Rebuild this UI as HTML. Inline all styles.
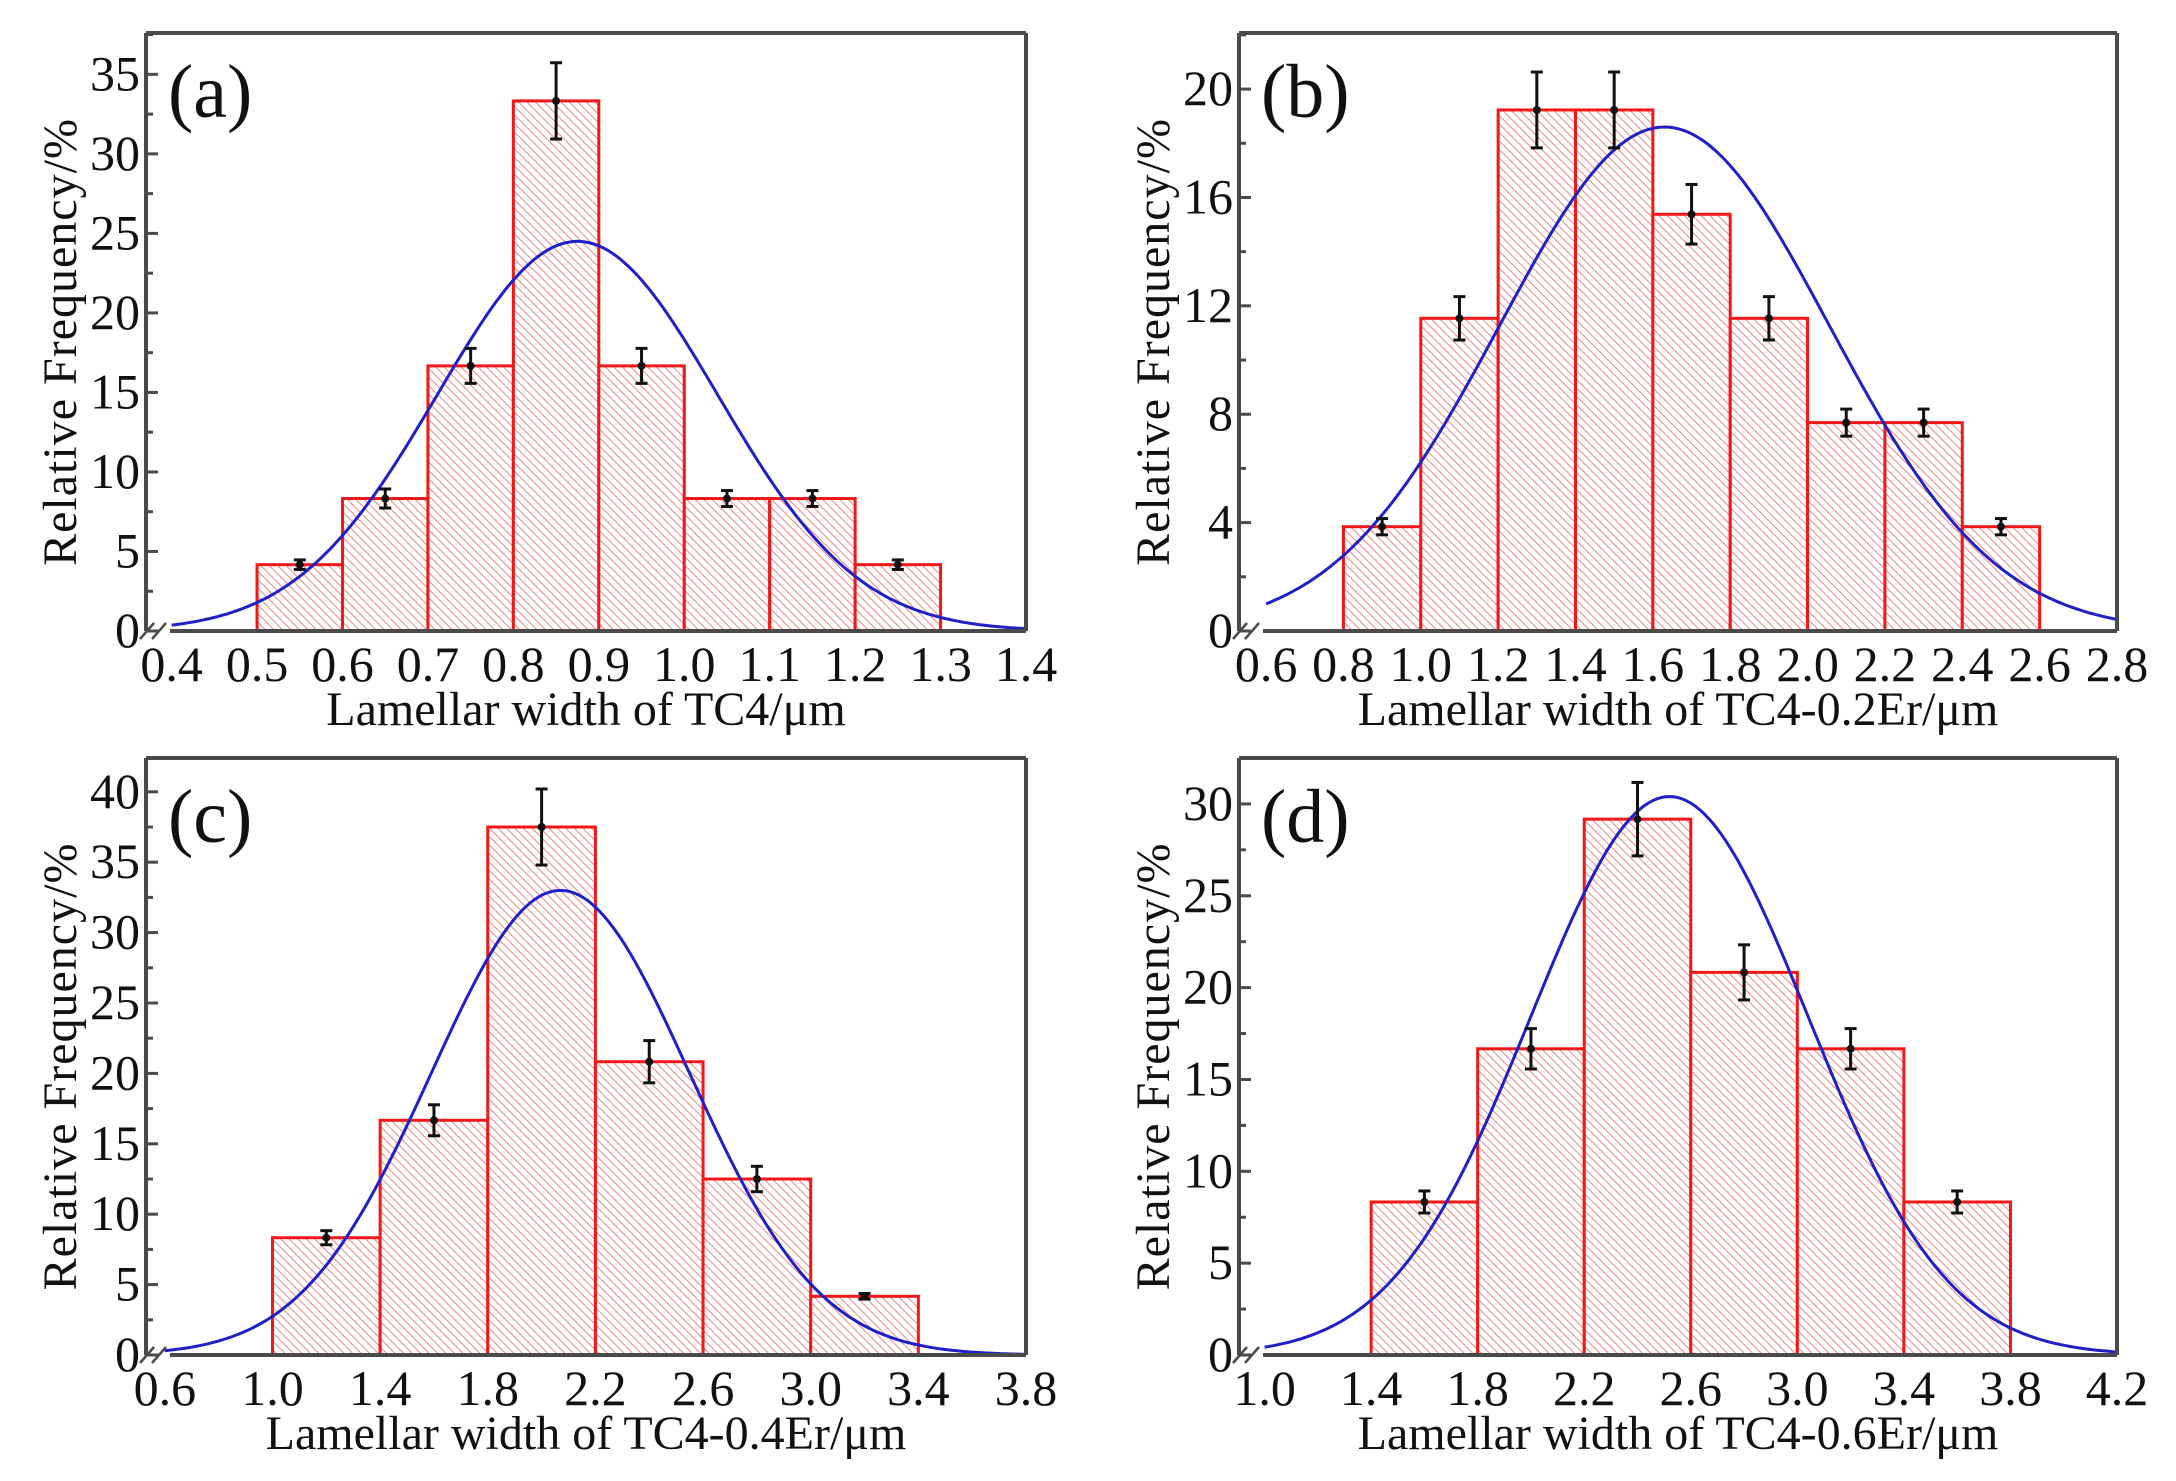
<!DOCTYPE html>
<html><head><meta charset="utf-8"><style>
html,body{margin:0;padding:0;background:#fff}
svg{display:block}
text{font-family:"Liberation Serif",serif;fill:#111}
</style></head><body>
<svg id="fig" width="2176" height="1481" viewBox="0 0 2176 1481" xmlns="http://www.w3.org/2000/svg">
<defs>
<pattern id="hatch" patternUnits="userSpaceOnUse" width="6" height="6" patternTransform="rotate(-45)">
<rect width="6" height="6" fill="#fff"/>
<line x1="0" y1="0" x2="0" y2="6" stroke="#ee7878" stroke-width="1.8"/>
</pattern>
</defs>
</svg>
<script>
// Panel (a)
const aEdges = [0.5,0.6,0.7,0.8,0.9,1.0,1.1,1.2,1.3];
const aValues = [4.17,8.33,16.67,33.33,16.67,8.33,8.33,4.17];
const aErrors = [0.3,0.6,1.1,2.4,1.1,0.5,0.5,0.3];
const aXTicks = ["0.4","0.5","0.6","0.7","0.8","0.9","1.0","1.1","1.2","1.3","1.4"];
const aYTicks = [0,5,10,15,20,25,30,35];
const aFit = [24.5,0.875,0.164];
// Panel (b)
const bEdges = [0.8,1.0,1.2,1.4,1.6,1.8,2.0,2.2,2.4,2.6];
const bValues = [3.85,11.54,19.23,19.23,15.38,11.54,7.69,7.69,3.85];
const bErrors = [0.3,0.8,1.4,1.4,1.1,0.8,0.5,0.5,0.3];
const bXTicks = ["0.6","0.8","1.0","1.2","1.4","1.6","1.8","2.0","2.2","2.4","2.6","2.8"];
const bYTicks = [0,4,8,12,16,20];
const bFit = [18.6,1.63,0.426];
// Panel (c)
const cEdges = [1.0,1.4,1.8,2.2,2.6,3.0,3.4];
const cValues = [8.33,16.67,37.5,20.83,12.5,4.17];
const cErrors = [0.5,1.1,2.7,1.5,0.9,0.2];
const cXTicks = ["0.6","1.0","1.4","1.8","2.2","2.6","3.0","3.4","3.8"];
const cYTicks = [0,5,10,15,20,25,30,35,40];
const cFit = [33.0,2.07,0.48];
// Panel (d)
const dEdges = [1.4,1.8,2.2,2.6,3.0,3.4,3.8];
const dValues = [8.33,16.67,29.17,20.83,16.67,8.33];
const dErrors = [0.6,1.1,2.0,1.5,1.1,0.6];
const dXTicks = ["1.0","1.4","1.8","2.2","2.6","3.0","3.4","3.8","4.2"];
const dYTicks = [0,5,10,15,20,25,30];
const dFit = [30.4,2.52,0.52];

const NS="http://www.w3.org/2000/svg";
const svg=document.getElementById('fig');
function mk(tag,attrs,parent){const e=document.createElementNS(NS,tag);for(const k in attrs)e.setAttribute(k,attrs[k]);(parent||svg).appendChild(e);return e;}

function panel(cfg){
  const {L,R,T,B,xmin,xmax,ymax,edges,values,errors,xt,yt,fit,label,xtitle,id}=cfg;
  const g=mk('g',{});
  
  
  const X=v=>L+(v-xmin)/(xmax-xmin)*(R-L);
  const Y=v=>B-v/ymax*(B-T);
  for(let i=0;i<values.length;i++){
    const r=mk('rect',{x:X(edges[i]),y:Y(values[i]),width:X(edges[i+1])-X(edges[i]),height:B-Y(values[i]),fill:'url(#hatch)',stroke:'#f01818','stroke-width':3},g);
    
    
  }
  const x0=parseFloat(xt[0]);
  let d='';
  for(let k=0;k<=200;k++){const x=x0+(xmax-x0)*k/200;const y=fit[0]*Math.exp(-Math.pow(x-fit[1],2)/(2*fit[2]*fit[2]));d+=(k?'L':'M')+X(x).toFixed(1)+','+Y(y).toFixed(1);}
  const c=mk('path',{d:d,fill:'none',stroke:'#2020c8','stroke-width':3},g);
  
  
  for(let i=0;i<values.length;i++){
    const cx=X((edges[i]+edges[i+1])/2);
    const eg=mk('g',{stroke:'#111','stroke-width':3},g);
    
    
    mk('line',{x1:cx,x2:cx,y1:Y(values[i]+errors[i]),y2:Y(values[i]-errors[i])},eg);
    mk('line',{x1:cx-6,x2:cx+6,y1:Y(values[i]+errors[i]),y2:Y(values[i]+errors[i])},eg);
    mk('line',{x1:cx-6,x2:cx+6,y1:Y(values[i]-errors[i]),y2:Y(values[i]-errors[i])},eg);
    mk('circle',{cx:cx,cy:Y(values[i]),r:4,fill:'#111',stroke:'none'},eg);
  }
  const ax=mk('g',{stroke:'#4a4a4a','stroke-width':4,fill:'none'},g);
  
  
  mk('line',{x1:L,y1:T,x2:R,y2:T},ax);
  mk('line',{x1:R,y1:T,x2:R,y2:B},ax);
  mk('line',{x1:L,y1:T,x2:L,y2:B},ax);
  mk('line',{x1:L+24,y1:B,x2:R,y2:B},ax);
  mk('line',{x1:L-6,y1:B+8,x2:L+8,y2:B-8,'stroke-width':2.5},ax);
  mk('line',{x1:L+6,y1:B+8,x2:L+20,y2:B-8,'stroke-width':2.5},ax);
  const step=yt[1]-yt[0];
  for(let v=0;v<=ymax;v+=step/2){
    const maj=Math.abs((v/step)-Math.round(v/step))<1e-6;
    mk('line',{x1:L,x2:L+(maj?12:7),y1:Y(v),y2:Y(v),stroke:'#4a4a4a','stroke-width':3},g);
  }
  for(const v of yt){
    const t=mk('text',{x:L-6,y:Y(v)+16,'text-anchor':'end','font-size':50},g);
    t.textContent=v;
    
    
  }
  for(const s of xt){
    const v=parseFloat(s);
    const t=mk('text',{x:X(v),y:B+50,'text-anchor':'middle','font-size':50},g);
    t.textContent=s;
    
    
  }
  const xtt=mk('text',{x:(L+R)/2,y:B+94,'text-anchor':'middle','font-size':48},g);
  xtt.textContent=xtitle;
  
  
  const ytt=mk('text',{x:0,y:0,'text-anchor':'middle','font-size':48,'letter-spacing':'1',transform:'translate('+(L-70)+','+((T+B)/2+10)+') rotate(-90)'},g);
  ytt.textContent='Relative Frequency/%';
  
  
  const pl=mk('text',{x:L+22,y:T+84,'font-size':76},g);
  pl.textContent=label;
  
  
}

panel({id:'a',L:146,R:1026,T:33,B:631,xmin:0.37,xmax:1.4,ymax:37.6,edges:aEdges,values:aValues,errors:aErrors,xt:aXTicks,yt:aYTicks,fit:aFit,label:'(a)',xtitle:'Lamellar width of TC4/μm'});
panel({id:'b',L:1239,R:2117,T:33,B:631,xmin:0.53,xmax:2.8,ymax:22.07,edges:bEdges,values:bValues,errors:bErrors,xt:bXTicks,yt:bYTicks,fit:bFit,label:'(b)',xtitle:'Lamellar width of TC4-0.2Er/μm'});
panel({id:'c',L:146,R:1026,T:758,B:1355,xmin:0.53,xmax:3.8,ymax:42.4,edges:cEdges,values:cValues,errors:cErrors,xt:cXTicks,yt:cYTicks,fit:cFit,label:'(c)',xtitle:'Lamellar width of TC4-0.4Er/μm'});
panel({id:'d',L:1239,R:2117,T:758,B:1355,xmin:0.904,xmax:4.2,ymax:32.5,edges:dEdges,values:dValues,errors:dErrors,xt:dXTicks,yt:dYTicks,fit:dFit,label:'(d)',xtitle:'Lamellar width of TC4-0.6Er/μm'});
</script>
</body></html>
